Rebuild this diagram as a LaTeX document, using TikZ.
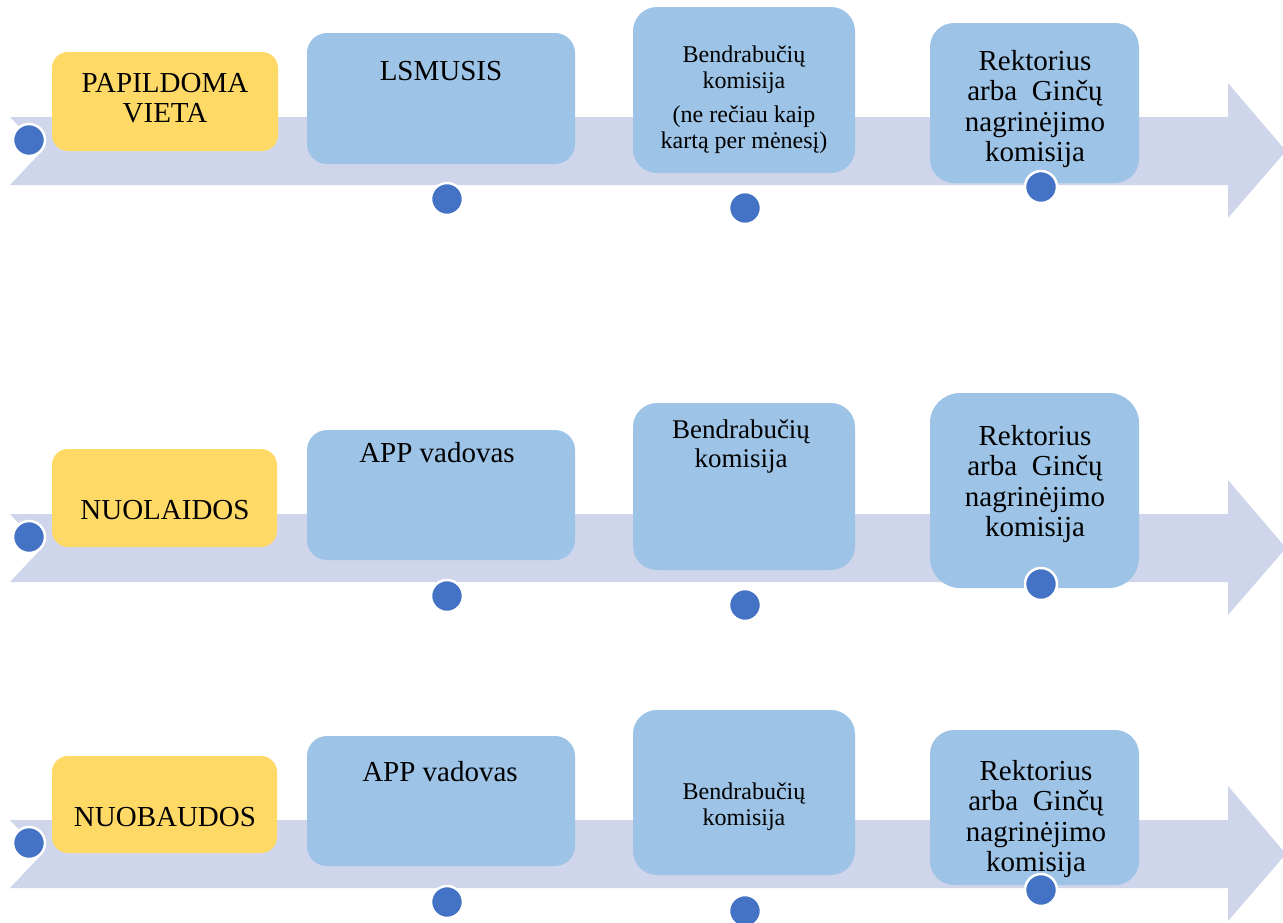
\documentclass[tikz,border=0pt]{standalone}
\usepackage{fontspec}
\setmainfont{Liberation Serif}
\usetikzlibrary{positioning}
\definecolor{bandcol}{HTML}{CFD5EA}
\definecolor{boxblue}{HTML}{9DC3E6}
\definecolor{boxyellow}{HTML}{FFD966}
\definecolor{dotblue}{HTML}{4472C4}
\tikzset{
  band/.style={fill=bandcol},
  ybox/.style={fill=boxyellow,rounded corners=16pt,inner sep=0},
  bbox/.style={fill=boxblue,rounded corners=24pt,inner sep=0},
  dot/.style={circle,fill=dotblue,draw=white,line width=2.5pt,minimum size=32pt,inner sep=0},
  lbl/.style={font=\fontsize{29}{30.5}\selectfont,align=center,inner sep=0},
  small/.style={lbl,font=\fontsize{24}{26}\selectfont}
}

\begin{document}
\begin{tikzpicture}[x=1pt,y=-1pt]
  \useasboundingbox (0,0) rectangle (1283,922);
  % the three timeline arrows
  \foreach \dy in {0,397,703}{
    \fill[band] (10,117+\dy) -- (1228,117+\dy) -- (1228,83+\dy) -- (1286,151+\dy)
      -- (1228,218+\dy) -- (1228,185+\dy) -- (10,185+\dy) -- (42,151+\dy) -- cycle;
  }

  % row 1
  \node[ybox,minimum width=226,minimum height=99] (pap) at (165,101.5) {};
  \node[bbox,rounded corners=20pt,minimum width=268,minimum height=131] (lsm) at (441,98.5) {};
  \node[bbox,minimum width=222,minimum height=166] (ben1) at (744,90) {};
  \node[bbox,minimum width=209,minimum height=160] (rek1) at (1034.5,103) {};
  \node[lbl] (papT) at (165,98) {PAPILDOMA\\VIETA};
  \node[lbl] (lsmT) at (441,71) {LSMUSIS};
  \node[small] (ben1T) at (744,70) {Bendrabučių\\komisija};
  \node[small] (ben1N) at (744,130) {(ne rečiau kaip\\kartą per mėnesį)};
  \node[lbl] (rek1T) at (1035,109) {Rektorius\\arba~~Ginčų\\nagrinėjimo\\komisija};

  % row 2
  \node[ybox,minimum width=225,minimum height=98] (nuol) at (164.5,498) {};
  \node[bbox,rounded corners=20pt,minimum width=268,minimum height=130] (app2) at (441,495) {};
  \node[bbox,minimum width=222,minimum height=167] (ben2) at (744,486.5) {};
  \node[bbox,rounded corners=30pt,minimum width=209,minimum height=195] (rek2) at (1034.5,490.5) {};
  \node[lbl] (nuolT) at (165,510) {NUOLAIDOS};
  \node[lbl] (app2T) at (437,453) {APP vadovas};
  \node[lbl,font=\fontsize{27}{29}\selectfont] (ben2T) at (741,446) {Bendrabučių\\komisija};
  \node[lbl] (rek2T) at (1035,484) {Rektorius\\arba~~Ginčų\\nagrinėjimo\\komisija};

  % row 3
  \node[ybox,minimum width=225,minimum height=97] (nuob) at (164.5,804.5) {};
  \node[bbox,rounded corners=20pt,minimum width=268,minimum height=130] (app3) at (441,801) {};
  \node[bbox,minimum width=222,minimum height=165] (ben3) at (744,792.5) {};
  \node[bbox,minimum width=209,minimum height=155] (rek3) at (1034.5,807.5) {};
  \node[lbl] (nuobT) at (165,817) {NUOBAUDOS};
  \node[lbl] (app3T) at (440,772) {APP vadovas};
  \node[small] (ben3T) at (744,807) {Bendrabučių\\komisija};
  \node[lbl] (rek3T) at (1036,819) {Rektorius\\arba~~Ginčų\\nagrinėjimo\\komisija};

  % timeline dots
  \foreach \dy [count=\r] in {0,397,703}{
    \node[dot] (d\r a) at (29,140+\dy) {};
    \node[dot] (d\r b) at (447,199+\dy) {};
    \node[dot] (d\r c) at (745,208+\dy) {};
    \node[dot] (d\r d) at (1041,187+\dy) {};
  }
\end{tikzpicture}
\end{document}
